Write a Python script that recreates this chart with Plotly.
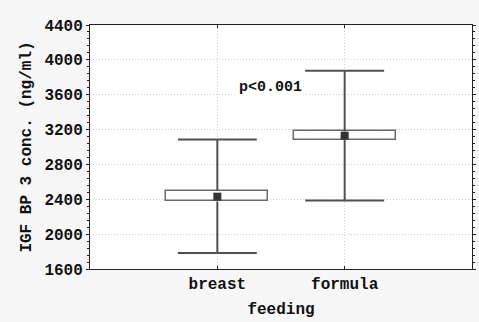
import plotly.graph_objects as go

# Group summary values for IGF BP 3 concentration (ng/ml)
groups = ["breast", "formula"]
means = [2430, 3130]
box_low = [2375, 3080]
box_high = [2495, 3180]
whisker_low = [1785, 2385]
whisker_high = [3085, 3875]
y_ticks = [1600, 2000, 2400, 2800, 3200, 3600, 4000, 4400]

FONT = "Liberation Mono, Courier New, monospace"
pos = list(range(len(groups)))
cap_half = 0.31

# whisker segments (box edge to extreme) and their caps
wx, wy = [], []
for i in pos:
    wx += [i, i, None, i, i, None]
    wy += [box_high[i], whisker_high[i], None, box_low[i], whisker_low[i], None]
    wx += [i - cap_half, i + cap_half, None, i - cap_half, i + cap_half, None]
    wy += [whisker_high[i], whisker_high[i], None, whisker_low[i], whisker_low[i], None]

fig = go.Figure()
fig.add_trace(go.Bar(
    x=pos, base=box_low,
    y=[h - l for h, l in zip(box_high, box_low)],
    width=0.8, marker=dict(color="white", line=dict(color="#6a6a6a", width=1.5)),
    hoverinfo="skip", showlegend=False,
))
fig.add_trace(go.Scatter(
    x=wx, y=wy, mode="lines",
    line=dict(color="#505050", width=2),
    hoverinfo="skip", showlegend=False,
))
fig.add_trace(go.Scatter(
    x=pos, y=means, mode="markers",
    marker=dict(symbol="square", size=8, color="#333333"),
    showlegend=False,
))

fig.add_annotation(
    x=0.42, y=3680, xref="x", yref="y", text="<b>p<0.001</b>", showarrow=False,
    bgcolor="white", borderpad=2, font=dict(family=FONT, size=15, color="#111111"),
)

grid = dict(showgrid=True, gridcolor="#cfcfcf", griddash="1px,2px", gridwidth=1)

fig.update_layout(
    width=479, height=322,
    margin=dict(l=90, r=3, t=25, b=53),
    paper_bgcolor="#f7f7f7", plot_bgcolor="white",
    font=dict(family=FONT, size=16, color="#111111"),
    bargap=0,
)
fig.update_xaxes(
    range=[-1, 2], tickmode="array", tickvals=pos, ticktext=groups,
    tickfont=dict(family=FONT, size=16, weight="bold"),
    title=dict(text="<b>feeding</b>", font=dict(family=FONT, size=16), standoff=9),
    showline=True, linecolor="#222222", linewidth=1, mirror="ticks",
    ticks="inside", ticklen=3, tickcolor="#222222",
    zeroline=False, **grid,
)
fig.update_yaxes(
    range=[1600, 4400], tickmode="array", tickvals=y_ticks,
    tickfont=dict(family=FONT, size=16, weight="bold"),
    title=dict(text="<b>IGF BP 3 conc. (ng/ml)</b>", font=dict(family=FONT, size=16), standoff=8),
    showline=True, linecolor="#222222", linewidth=1, mirror="ticks",
    ticks="outside", ticklen=3, tickcolor="#222222",
    minor=dict(ticks="outside", ticklen=2, dtick=80, tick0=1600, tickcolor="#222222", showgrid=False),
    zeroline=False, **grid,
)

fig.write_html("out.html")
